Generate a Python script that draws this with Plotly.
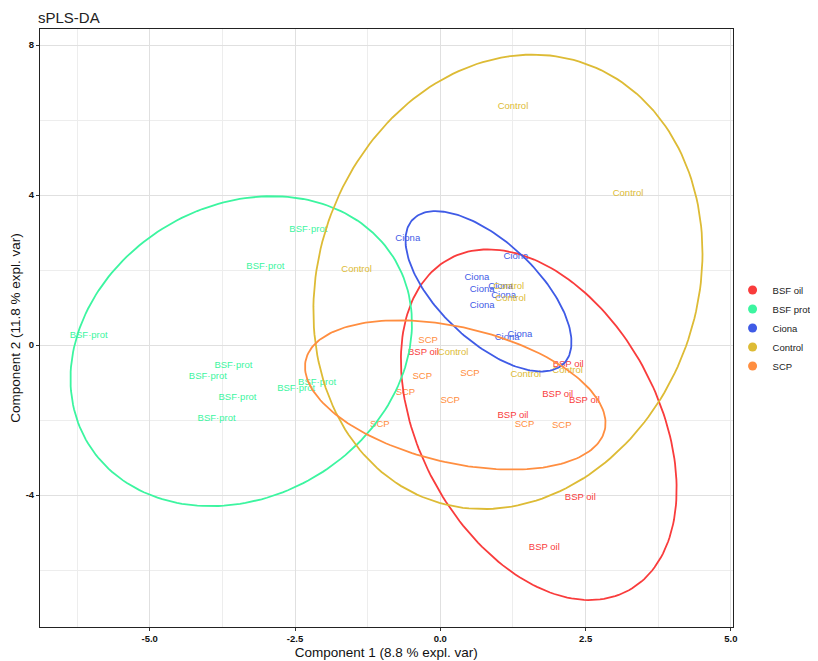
import numpy as np
import plotly.graph_objects as go

# ---- data (component scores) ----
groups = ["BSF oil", "BSF prot", "Ciona", "Control", "SCP"]
point_labels = ["BSP oil", "BSF·prot", "Ciona", "Control", "SCP"]
colors = ["#F93C3C", "#3CF5A0", "#3F5BE6", "#DDBB35", "#FF8E40"]

bsf_oil_x = [-0.29, 2.20, 2.02, 2.48, 1.25, 2.41, 1.79]
bsf_oil_y = [-0.19, -0.53, -1.31, -1.49, -1.89, -4.08, -5.39]

bsf_prot_x = [-6.05, -2.27, -3.01, -3.56, -4.00, -3.49, -3.85, -2.12, -2.48]
bsf_prot_y = [0.24, 3.09, 2.08, -0.56, -0.83, -1.39, -1.97, -0.99, -1.15]

ciona_x = [-0.56, 1.30, 0.63, 0.72, 1.04, 1.09, 0.72, 1.37, 1.15]
ciona_y = [2.85, 2.37, 1.81, 1.47, 1.55, 1.33, 1.04, 0.27, 0.19]

control_x = [1.25, 3.23, -1.44, 1.18, 1.21, 0.22, 1.47, 2.19]
control_y = [6.35, 4.03, 2.00, 1.55, 1.23, -0.21, -0.80, -0.67]

scp_x = [-0.21, -0.31, 0.51, -0.60, 0.17, 1.45, 2.09, -1.04]
scp_y = [0.11, -0.85, -0.75, -1.28, -1.47, -2.13, -2.16, -2.13]

xs = [bsf_oil_x, bsf_prot_x, ciona_x, control_x, scp_x]
ys = [bsf_oil_y, bsf_prot_y, ciona_y, control_y, scp_y]

x_ticks = [-5.0, -2.5, 0.0, 2.5, 5.0]
y_ticks = [8, 4, 0, -4]

CONF_LEVEL = 0.95


def conf_ellipse(x, y, level=CONF_LEVEL, n=200):
    """Confidence ellipse (like ellipse::ellipse with t = sqrt(qchisq(level, 2)))."""
    x = np.asarray(x, float)
    y = np.asarray(y, float)
    cov = np.cov(x, y)
    sx, sy = np.sqrt(np.diag(cov))
    r = cov[0, 1] / (sx * sy)
    d = np.arccos(r)
    t = np.sqrt(-2.0 * np.log(1.0 - level))
    a = np.linspace(0, 2 * np.pi, n)
    ex = t * sx * np.cos(a + d / 2) + x.mean()
    ey = t * sy * np.cos(a - d / 2) + y.mean()
    return ex, ey


fig = go.Figure()

TXT = "Liberation Sans, Arial, sans-serif"
NARROW = "Liberation Sans Narrow, Arial Narrow, Liberation Sans, sans-serif"

for g, lab, c, x, y in zip(groups, point_labels, colors, xs, ys):
    fig.add_trace(go.Scatter(
        x=x, y=y, mode="text", text=[lab] * len(x),
        textposition="middle center",
        textfont=dict(family=TXT, size=9.5, color=c),
        showlegend=False, hoverinfo="skip"))

for g, c, x, y in zip(groups, colors, xs, ys):
    ex, ey = conf_ellipse(x, y)
    fig.add_trace(go.Scatter(
        x=ex, y=ey, mode="lines", line=dict(color=c, width=1.8),
        showlegend=False, hoverinfo="skip"))

for g, c in zip(groups, colors):
    fig.add_trace(go.Scatter(
        x=[None], y=[None], mode="markers", name=g,
        marker=dict(color=c, size=9, symbol="circle")))

axis_common = dict(
    showline=True, linecolor="#222222", linewidth=1, mirror=True,
    ticks="outside", ticklen=3, tickcolor="#333333",
    gridcolor="#E0E0E0", gridwidth=1,
    minor=dict(showgrid=True, gridcolor="#EDEDED", gridwidth=1),
    zeroline=False, automargin=False,
    tickfont=dict(family=NARROW, size=9.5, color="#111111", weight=700),
    title_font=dict(family=NARROW, size=13.5, color="#111111"),
)

fig.update_xaxes(range=[-6.888, 5.029], tickvals=x_ticks,
                 ticktext=[f"{v:.1f}" for v in x_ticks],
                 minor_dtick=1.25, minor_tick0=0,
                 title_text="Component 1 (8.8 % expl. var)", title_standoff=4,
                 **axis_common)
fig.update_yaxes(range=[-7.52, 8.427], tickvals=y_ticks,
                 ticktext=[str(v) for v in y_ticks],
                 minor_dtick=2, minor_tick0=0,
                 title_text="Component 2 (11.8 % expl. var)", title_standoff=1,
                 **axis_common)

# the page body adds an 8px offset, so the figure is 8px smaller on each axis
W, H = 810, 653
fig.update_layout(
    width=W, height=H,
    margin=dict(l=32, r=80, t=21, b=34),
    paper_bgcolor="white", plot_bgcolor="white",
    title=dict(text="sPLS-DA", x=30 / W, xanchor="left", xref="container",
               y=1 - 10 / H, yanchor="middle", yref="container",
               font=dict(family=TXT, size=15, color="#222222"),
               automargin=False),
    legend=dict(x=0.997, xanchor="right", xref="container",
                y=0.5, yanchor="middle",
                font=dict(family=TXT, size=9.5, color="#222222"),
                itemwidth=30, bgcolor="rgba(0,0,0,0)", borderwidth=0),
    showlegend=True,
)

fig.write_html("out.html")
